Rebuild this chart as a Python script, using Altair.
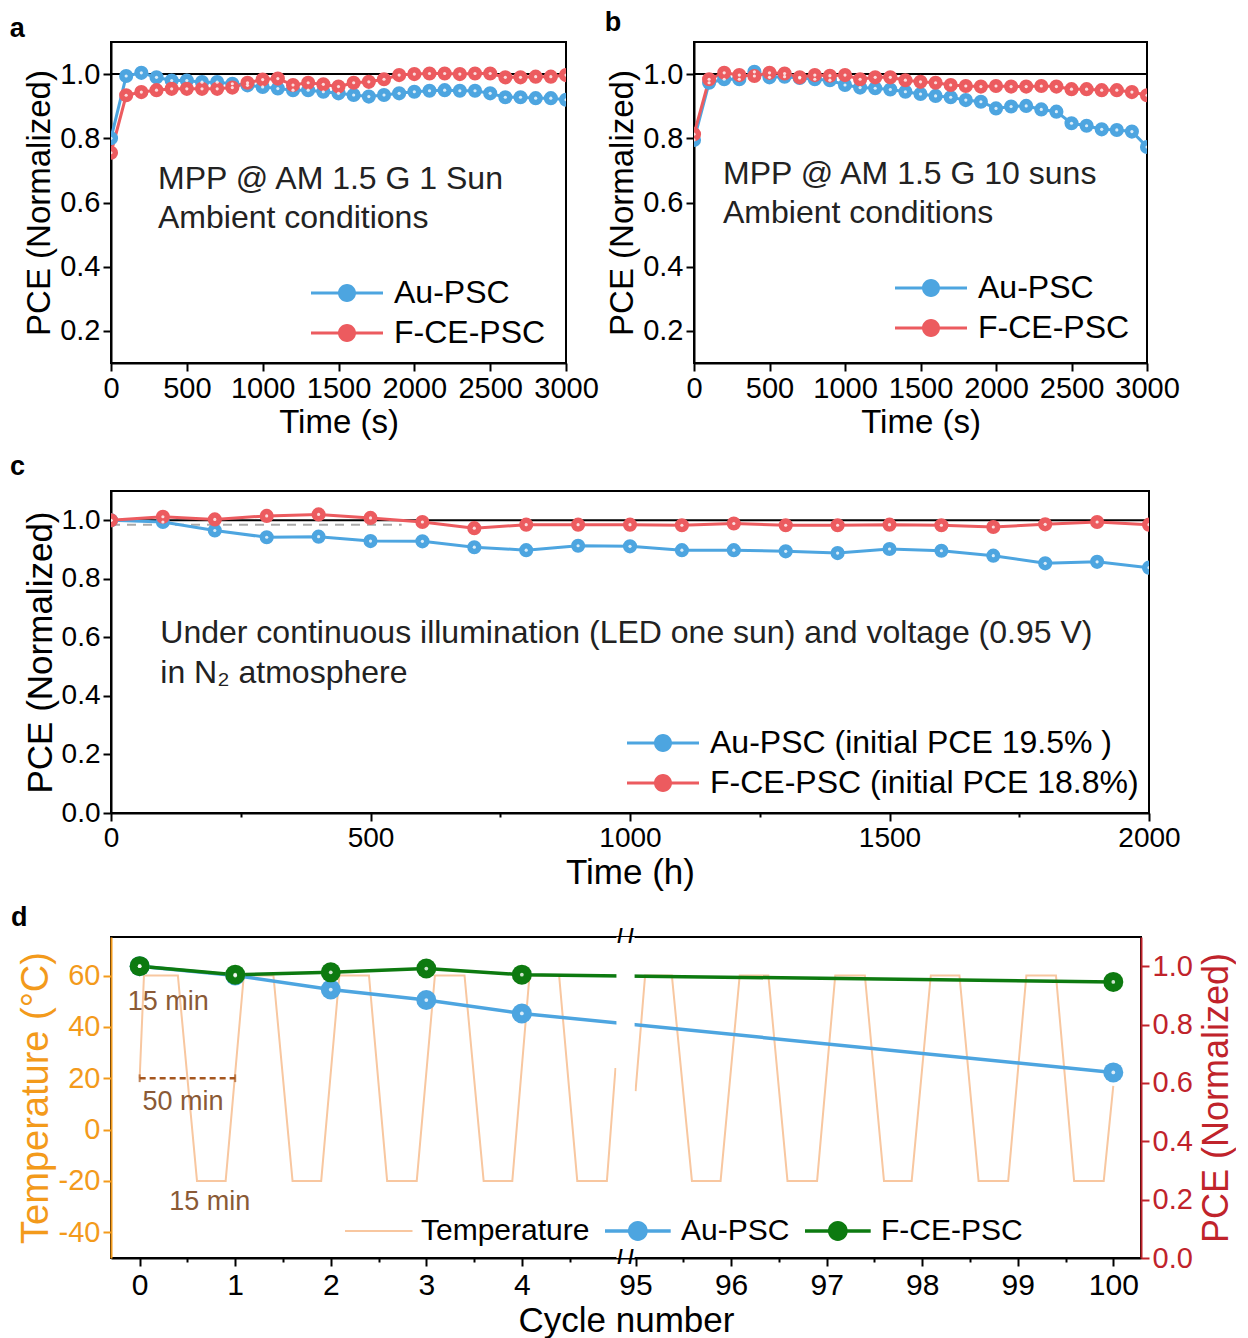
import altair as alt
import pandas as pd

FONT = "Liberation Sans"
BLUE = "#4DA5E0"
RED = "#EC5B5F"
GREEN = "#0D7A10"
TEMP_C = "#F8C7A0"
ORANGE = "#F39A1B"
DARKRED = "#C0232B"
BROWN = "#8A5A36"

# ---------------- data ----------------
t_ab = [0, 100, 200, 300, 400, 500, 600, 700, 800, 900, 1000, 1100, 1200, 1300, 1400, 1500,
        1600, 1700, 1800, 1900, 2000, 2100, 2200, 2300, 2400, 2500, 2600, 2700, 2800, 2900, 3000]
a_au = [0.80, 0.994, 1.004, 0.99, 0.98, 0.98, 0.975, 0.975, 0.97, 0.965, 0.96, 0.955, 0.95, 0.95,
        0.945, 0.94, 0.935, 0.93, 0.935, 0.94, 0.945, 0.948, 0.95, 0.948, 0.948, 0.94, 0.928,
        0.928, 0.925, 0.925, 0.92]
a_fce = [0.755, 0.934, 0.944, 0.95, 0.954, 0.954, 0.954, 0.954, 0.958, 0.973, 0.983, 0.986, 0.966,
         0.973, 0.968, 0.961, 0.973, 0.976, 0.984, 0.997, 1.0, 1.002, 1.002, 1.0, 1.002, 1.002,
         0.99, 0.99, 0.992, 0.992, 0.997]
b_au = [0.795, 0.973, 0.984, 0.984, 1.007, 0.99, 0.992, 0.988, 0.984, 0.981, 0.966, 0.958, 0.956,
        0.952, 0.945, 0.938, 0.932, 0.928, 0.919, 0.914, 0.893, 0.899, 0.901, 0.89, 0.883, 0.847,
        0.839, 0.828, 0.826, 0.821, 0.773]
b_fce = [0.813, 0.984, 1.004, 0.997, 0.994, 1.004, 1.002, 0.99, 0.997, 0.995, 0.997, 0.984, 0.99,
         0.99, 0.981, 0.976, 0.973, 0.966, 0.963, 0.961, 0.963, 0.961, 0.961, 0.963, 0.961, 0.953,
         0.953, 0.95, 0.95, 0.944, 0.934]

t_c = [0, 100, 200, 300, 400, 500, 600, 700, 800, 900, 1000, 1100, 1200, 1300, 1400, 1500, 1600,
       1700, 1800, 1900, 2000]
c_au = [1.0, 0.994, 0.965, 0.942, 0.944, 0.929, 0.928, 0.908, 0.898, 0.913, 0.911, 0.898, 0.898,
        0.894, 0.888, 0.902, 0.896, 0.879, 0.853, 0.858, 0.838]
c_fce = [1.0, 1.012, 1.003, 1.015, 1.02, 1.008, 0.994, 0.973, 0.985, 0.985, 0.985, 0.983, 0.989,
         0.983, 0.983, 0.985, 0.983, 0.977, 0.986, 0.994, 0.985]
c_ref_level = 0.985
c_ref_end = 560

d_cycles = [0, 1, 2, 3, 4, 100]
d_au = [1.0, 0.968, 0.92, 0.884, 0.838, 0.636]
d_fce = [1.0, 0.971, 0.979, 0.992, 0.971, 0.946]

temp_cycle_pre = [0.0, 0.045, 0.40, 0.60, 0.90, 1.09, 1.40, 1.60, 1.90, 2.09, 2.40, 2.59, 2.90,
                  3.09, 3.40, 3.60, 3.90, 4.08, 4.39, 4.58, 4.89, 4.98]
temp_val_pre = [20, 60, 60, -20, -20, 60, 60, -20, -20, 60, 60, -20, -20, 60, 60, -20, -20, 60, 60,
                -20, -20, 24]
temp_cycle_post = [95.0, 95.10, 95.38, 95.59, 95.89, 96.09, 96.39, 96.59, 96.90, 97.09, 97.40,
                   97.60, 97.89, 98.09, 98.39, 98.59, 98.90, 99.09, 99.40, 99.59, 99.90, 100.0]
temp_val_post = [15, 60, 60, -20, -20, 60, 60, -20, -20, 60, 60, -20, -20, 60, 60, -20, -20, 60,
                 60, -20, -20, 17]

d_major_cycles = [0, 1, 2, 3, 4, 95, 96, 97, 98, 99, 100]
d_minor_cycles = [0.5, 1.5, 2.5, 3.5, 4.5, 95.5, 96.5, 97.5, 98.5, 99.5]

# broken-axis mapping: cycles 95..100 are drawn right after cycle 4
SHIFT = 89.81


def to_pos(c):
    return round(c if c < 50 else c - SHIFT, 4)


# ---------------- helpers ----------------
def tick_cond(test, minor=4, major=8):
    return {"condition": {"test": "(" + test + ")", "value": minor}, "value": major}


# legend symbol: a line with a dot (unit frame scaled 9 px/unit)
SYM_LINE_DOT = ("M-1,-0.17L7,-0.17L7,0.17L-1,0.17Z "
                "M4,0A1,1 0 1,1 2,0A1,1 0 1,1 4,0Z")
SYM_LINE_DOT_D = ("M-1,-0.19L6.3,-0.19L6.3,0.19L-1,0.19Z "
                  "M3.75,0A1.1,1.1 0 1,1 1.55,0A1.1,1.1 0 1,1 3.75,0Z")
SYM_LINE_ONLY = "M-1,-0.12L6.5,-0.12L6.5,0.12L-1,0.12Z"

SERIES = ["Au-PSC", "F-CE-PSC"]

Y_TICKS_AB = [0.2, 0.4, 0.6, 0.8, 1.0]
Y_TICKS_C = [0.0, 0.1, 0.2, 0.3, 0.4, 0.5, 0.6, 0.7, 0.8, 0.9, 1.0]
X_TICKS_AB = [0, 250, 500, 750, 1000, 1250, 1500, 1750, 2000, 2250, 2500, 2750, 3000]
X_TICKS_C = [0, 250, 500, 750, 1000, 1250, 1500, 1750, 2000]

Y_LABEL = "round(datum.value*10) % 2 == 0 ? format(datum.value, '.1f') : ''"
Y_MINOR = "round(datum.value*10) % 2 == 1"


def pce_panel(times, au, fce, xmax, title_size, label_size, width, height, texts, text_size,
              leg_x, leg_y, leg_labels, leg_size, tag, tag_dx, tag_offset, ymin, y_ticks,
              extra=None):
    n = len(times)
    df = pd.DataFrame({"t": times + times, "pce": au + fce,
                       "series": [SERIES[0]] * n + [SERIES[1]] * n,
                       "label": [leg_labels[0]] * n + [leg_labels[1]] * n})
    xs = alt.Scale(domain=[0, xmax], nice=False, zero=False)
    ys = alt.Scale(domain=[ymin, 1.1], nice=False, zero=False)
    xticks = X_TICKS_AB if xmax == 3000 else X_TICKS_C
    xtitle = "Time (s)" if xmax == 3000 else "Time (h)"
    xax = alt.Axis(title=xtitle, values=xticks, titleFontSize=title_size,
                   labelFontSize=label_size,
                   labelExpr="datum.value % 500 == 0 ? '' + datum.value : ''",
                   tickSize=tick_cond("datum.value % 500 != 0"), labelOverlap=False,
                   labelFlush=False)
    if ymin > 0:
        yax = alt.Axis(title="PCE (Normalized)", values=y_ticks, format=".1f",
                       labelOverlap=False, titleFontSize=title_size, labelFontSize=label_size,
                       tickSize=8)
    else:
        yax = alt.Axis(title="PCE (Normalized)", values=y_ticks, labelExpr=Y_LABEL,
                       tickSize=tick_cond(Y_MINOR), labelOverlap=False,
                       titleFontSize=title_size, labelFontSize=label_size)
    X = alt.X("t:Q", scale=xs, axis=xax)
    Y = alt.Y("pce:Q", scale=ys, axis=yax)
    cscale = alt.Scale(domain=leg_labels, range=[BLUE, RED])
    leg = alt.Legend(orient="none", legendX=leg_x, legendY=leg_y, title=None,
                     symbolType=SYM_LINE_DOT, symbolSize=324, symbolOpacity=1,
                     symbolStrokeWidth=0, labelFont=FONT, labelFontSize=leg_size,
                     labelColor="black", labelOffset=58, rowPadding=8, labelLimit=0,
                     padding=0)
    base = alt.Chart(df)
    layers = []
    ref = alt.Chart(pd.DataFrame({"pce": [1.0]})).mark_rule(
        color="black", strokeWidth=2).encode(y=Y)
    layers.append(ref)
    if extra is not None:
        layers.append(extra(X, Y))
    for s, col in zip(leg_labels, [BLUE, RED]):
        layers.append(base.transform_filter(alt.datum.label == s).mark_line(
            strokeWidth=3, clip=True, color=col).encode(x=X, y=Y))
    pts = base.mark_point(filled=True, size=200, opacity=1, clip=True).encode(
        x=X, y=Y, color=alt.Color("label:N", scale=cscale, legend=leg))
    hl = base.mark_point(filled=True, size=10, color="white", opacity=0.8,
                         clip=True).encode(x=X, y=Y)
    layers += [pts, hl]
    for (tx, ty, txt) in texts:
        layers.append(alt.Chart(pd.DataFrame({"k": [0]})).mark_text(
            align="left", baseline="middle", font=FONT, fontSize=text_size,
            color="#222222").encode(x=alt.datum(tx), y=alt.datum(ty), text=alt.value(txt)))
    return alt.layer(*layers).properties(
        width=width, height=height,
        title=alt.Title(tag, anchor="start", fontSize=27, fontWeight="bold", font=FONT,
                        dx=tag_dx, offset=tag_offset))


panel_a = pce_panel(t_ab, a_au, a_fce, 3000, 33, 29, 455, 321,
                    [(310, 0.672, "MPP @ AM 1.5 G 1 Sun"),
                     (310, 0.551, "Ambient conditions")], 32,
                    193, 235, SERIES, 32, "a", -14, -1, 0.1, Y_TICKS_AB)
panel_b = pce_panel(t_ab, b_au, b_fce, 3000, 33, 29, 453, 321,
                    [(192, 0.69, "MPP @ AM 1.5 G 10 suns"),
                     (192, 0.566, "Ambient conditions")], 32,
                    194, 230, SERIES, 32, "b", -2, 5, 0.1, Y_TICKS_AB)


def c_extra(X, Y):
    dfr = pd.DataFrame({"t": [0], "t2": [c_ref_end], "pce": [c_ref_level]})
    return alt.Chart(dfr).mark_rule(color="#AAAAAA", strokeWidth=2, strokeDash=[9, 7]).encode(
        x=X, x2="t2:Q", y=Y)


panel_c = pce_panel(t_c, c_au, c_fce, 2000, 35, 28, 1038, 322,
                    [(95, 0.614, "Under continuous illumination (LED one sun) and voltage (0.95 V)"),
                     (95, 0.478, "in N\u2082 atmosphere")], 32,
                    509, 236, ["Au-PSC (initial PCE 19.5% )", "F-CE-PSC (initial PCE 18.8%)"],
                    32, "c", -13, 10, 0.0, Y_TICKS_C, extra=c_extra)

# ---------------- panel d ----------------
d_df = pd.DataFrame({
    "pos": [to_pos(c) for c in d_cycles] * 2,
    "pce": d_au + d_fce,
    "series": ["Au-PSC"] * len(d_cycles) + ["F-CE-PSC"] * len(d_cycles)})
temp_df = pd.DataFrame({
    "pos": [to_pos(c) for c in temp_cycle_pre + temp_cycle_post],
    "temp": temp_val_pre + temp_val_post,
    "seg": ["pre"] * len(temp_cycle_pre) + ["post"] * len(temp_cycle_post)})

d_tick_pos = sorted([to_pos(c) for c in d_major_cycles + d_minor_cycles])
S = str(SHIFT)
POS_LABEL = ("datum.value < 5 ? (datum.value % 1 == 0 ? '' + datum.value : '') : "
             "(abs(datum.value + " + S + " - round(datum.value + " + S + ")) < 0.01 ? "
             "'' + round(datum.value + " + S + ") : '')")
POS_MINOR = ("datum.value < 5 ? (datum.value % 1 != 0) : "
             "(abs(datum.value + " + S + " - round(datum.value + " + S + ")) > 0.01)")

xs_d = alt.Scale(domain=[-0.30, 10.48], nice=False, zero=False)
xax_d = alt.Axis(title="Cycle number", values=d_tick_pos, labelExpr=POS_LABEL,
                 tickSize=tick_cond(POS_MINOR), labelOverlap=False, titleFontSize=35,
                 labelFontSize=30, labelPadding=4)
XD = alt.X("pos:Q", scale=xs_d, axis=xax_d)

ts = alt.Scale(domain=[-50, 75], nice=False, zero=False)
tax = alt.Axis(title="Temperature (\u00b0C)", orient="left",
               values=[-40, -30, -20, -10, 0, 10, 20, 30, 40, 50, 60, 70],
               labelExpr="datum.value % 20 == 0 ? '' + datum.value : ''",
               tickSize=tick_cond("datum.value % 20 != 0"), labelOverlap=False,
               domainColor=ORANGE, tickColor=ORANGE, labelColor=ORANGE, titleColor=ORANGE,
               titleFontSize=38, labelFontSize=29)
YT = alt.Y("temp:Q", scale=ts, axis=tax)

ps = alt.Scale(domain=[0, 1.1], nice=False, zero=False)
pax = alt.Axis(title="PCE (Normalized)", orient="right", values=Y_TICKS_C,
               labelExpr=Y_LABEL, tickSize=tick_cond(Y_MINOR), labelOverlap=False,
               domainColor=DARKRED, tickColor=DARKRED, labelColor=DARKRED, titleColor=DARKRED,
               titleFontSize=36, labelFontSize=29, titleAngle=270, titleBaseline="top",
               titlePadding=7)
YP = alt.Y("pce:Q", scale=ps, axis=pax)

D_SERIES = ["Temperature", "Au-PSC", "F-CE-PSC"]
dcol = alt.Scale(domain=D_SERIES, range=[TEMP_C, BLUE, GREEN])
dshape = alt.Scale(domain=D_SERIES, range=[SYM_LINE_ONLY, SYM_LINE_DOT_D, SYM_LINE_DOT_D])
dleg = alt.Legend(orient="none", legendX=228, legendY=279, direction="horizontal",
                  title=None, symbolSize=324, symbolOpacity=1, symbolStrokeWidth=0,
                  labelFont=FONT, labelFontSize=30, labelColor="black", labelOffset=52,
                  columnPadding=9, labelLimit=0, padding=0)

temp_line = alt.Chart(temp_df).mark_line(color=TEMP_C, strokeWidth=2).encode(
    x=XD, y=YT, detail="seg:N")
one = pd.DataFrame({"k": [0]})
arrow = alt.Chart(one).mark_rule(color="#A5561E", strokeWidth=2.5, strokeDash=[6, 4]).encode(
    x=alt.datum(0), x2=alt.datum(1), y=alt.datum(20))
caps = alt.Chart(pd.DataFrame({"pos": [0, 1], "temp": [20, 20]})).mark_point(
    shape="M0,-1L0,1", size=60, color="#A5561E", strokeWidth=2).encode(x=XD, y=YT)
d_texts = []
for (px, ty, txt) in [(-0.125, 49.8, "15 min"), (0.03, 10.7, "50 min"), (0.31, -28, "15 min")]:
    d_texts.append(alt.Chart(one).mark_text(
        align="left", baseline="middle", font=FONT, fontSize=27, color=BROWN).encode(
        x=alt.datum(px), y=alt.datum(ty), text=alt.value(txt)))
temp_group = alt.layer(temp_line, arrow, caps, *d_texts)

d_base = alt.Chart(d_df)
d_line_layers = [d_base.transform_filter(alt.datum.series == s).mark_line(
    strokeWidth=3.5, color=col).encode(x=XD, y=YP) for s, col in zip(SERIES, [BLUE, GREEN])]
gap = alt.Chart(one).mark_rect(color="white").encode(
    x=alt.datum(4.99), x2=alt.datum(5.18), y=alt.datum(1.1), y2=alt.datum(0.0))
d_pt_layers = [d_base.transform_filter(alt.datum.series == s).mark_point(
    filled=True, size=400, opacity=1, color=col).encode(x=XD, y=YP)
    for s, col in zip(SERIES, [BLUE, GREEN])]
d_hl = d_base.mark_point(filled=True, size=14, color="white", opacity=0.8).encode(x=XD, y=YP)
brk = alt.Chart(pd.DataFrame({"pce": [1.1, 0.0]})).mark_text(
    text="/ /", font=FONT, fontSize=20, fontWeight="bold", color="black").encode(
    x=alt.datum(5.085), y=YP)
leg_df = pd.DataFrame({"series": D_SERIES, "pos": [0.0, 0.0, 0.0], "pce": [0.5, 0.5, 0.5]})
carrier = alt.Chart(leg_df).mark_point(filled=True, opacity=0, size=324).encode(
    x=XD, y=YP,
    color=alt.Color("series:N", scale=dcol, legend=dleg),
    shape=alt.Shape("series:N", scale=dshape, legend=dleg))
pce_group = alt.layer(*d_line_layers, gap, *d_pt_layers, d_hl, brk, carrier)

panel_d = alt.layer(temp_group, pce_group).resolve_scale(y="independent").properties(
    width=1030, height=321,
    title=alt.Title("d", anchor="start", fontSize=27, fontWeight="bold", font=FONT,
                    dx=-6, offset=-5))

row1 = alt.hconcat(panel_a, panel_b, spacing=3).resolve_scale(
    color="independent").resolve_legend(color="independent")
row2 = alt.hconcat(panel_c)
row3 = alt.hconcat(panel_d)

chart = alt.vconcat(row1, row2, row3, spacing=12).resolve_scale(
    color="independent", shape="independent"
).resolve_legend(
    color="independent", shape="independent"
).properties(padding=0).configure(
    background="white", font=FONT
).configure_view(
    stroke="black", strokeWidth=2
).configure_axis(
    domainColor="black", domainWidth=2, tickColor="black", tickWidth=2,
    labelColor="black", titleColor="black", labelFont=FONT, titleFont=FONT,
    titleFontWeight="normal", grid=False, labelFontSize=28, titleFontSize=32,
    labelPadding=3, titlePadding=3
)

chart.save("out.html", embed_options={"renderer": "svg", "actions": False})
